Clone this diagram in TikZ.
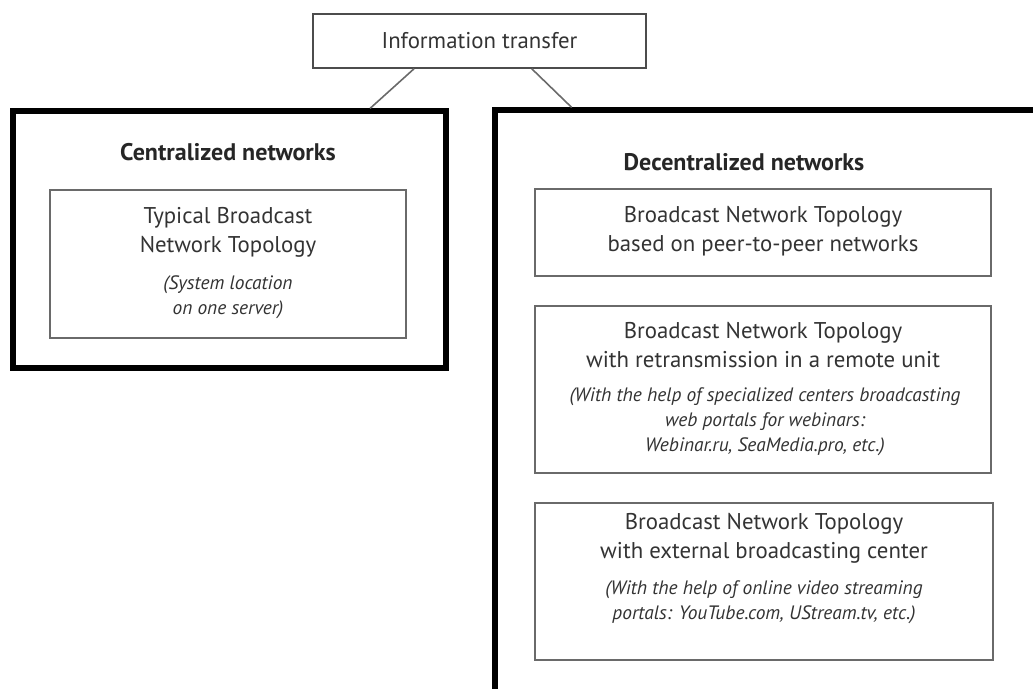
\documentclass[tikz,border=0pt]{standalone}
\usepackage{fontspec}
\setmainfont{PT Sans}
\usepackage{tikz}
\usetikzlibrary{positioning}

\definecolor{inkgray}{HTML}{333333}
\definecolor{linegray}{HTML}{6A6A6A}

\tikzset{
    outerbox/.style={draw=black, line width=2.6pt, inner sep=0pt},
    innerbox/.style={draw=linegray, line width=0.8pt, inner sep=0pt},
    headtext/.style={text=inkgray, align=center, font=\fontsize{11.4}{14.5}\selectfont},
    notetext/.style={text=inkgray, align=center, font=\fontsize{9.7}{12.6}\selectfont\itshape},
    titletext/.style={text=black!85, font=\fontsize{12}{13}\selectfont\bfseries}
}

\begin{document}
\begin{tikzpicture}[x=0.5pt, y=-0.5pt]
    \useasboundingbox (0,0) rectangle (1033,689);   % page of the picture
    \clip (0,0) rectangle (1033,689);               % right box runs off the page

    \node [innerbox, draw=black!70, minimum width=166.5pt, minimum height=27pt,
        headtext] (info) at (479.5,41) {Information transfer};

    % centralized side
    \node [outerbox, minimum width=216.5pt, minimum height=128.5pt]
        (cent) at (229.5,239.5) {};
    \node [titletext] (centtitle) at (228,152) {Centralized networks};
    \node [innerbox, minimum width=178pt, minimum height=74pt]
        (typbox) at (228,264) {};
    \node [headtext] (typ) at (228,232) {Typical Broadcast\\Network Topology};
    \node [notetext] (typnote) at (228,297.5) {(System location\\on one server)};

    % decentralized side
    \node [outerbox, minimum width=287.5pt, minimum height=310pt]
        (decent) at (782.5,420) {};
    \node [titletext] (decenttitle) at (744,162) {Decentralized networks};

    \node [innerbox, minimum width=228pt, minimum height=43.5pt]
        (p2pbox) at (763,232.5) {};
    \node [headtext] (p2p) at (763,231.5)
        {Broadcast Network Topology\\based on peer-to-peer networks};

    \node [innerbox, minimum width=228pt, minimum height=83.5pt]
        (retrbox) at (763,389.5) {};
    \node [headtext] (retr) at (763,345)
        {Broadcast Network Topology\\with retransmission in a remote unit};
    \node [notetext] (retrnote) at (765,422)
        {(With the help of specialized centers broadcasting\\web portals for webinars:\\Webinar.ru, SeaMedia.pro, etc.)};

    \node [innerbox, minimum width=229pt, minimum height=78.5pt]
        (extbox) at (764,581.5) {};
    \node [headtext] (ext) at (764,538)
        {Broadcast Network Topology\\with external broadcasting center};
    \node [notetext] (extnote) at (764,602.5)
        {(With the help of online video streaming\\portals: YouTube.com, UStream.tv, etc.)};

    % links from the top box
    \draw [linegray, line width=0.8pt] (info.-157.3) -- (cent.43.9);
    \draw [linegray, line width=0.8pt] (info.-28.1) -- (decent.124.05);
\end{tikzpicture}
\end{document}
